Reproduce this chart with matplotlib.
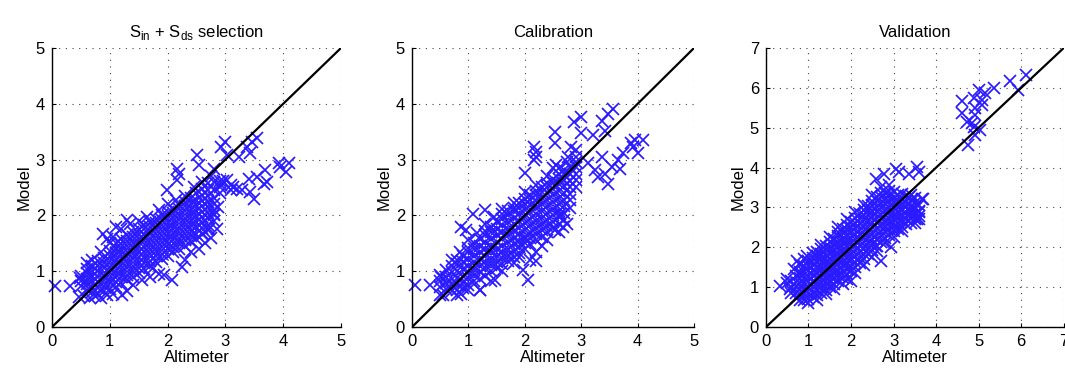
import matplotlib
matplotlib.use("Agg")
import matplotlib.pyplot as plt

plt.rcParams['font.family'] = ['Liberation Sans', 'DejaVu Sans']
plt.rcParams['mathtext.fontset'] = 'custom'
plt.rcParams['mathtext.rm'] = 'Liberation Sans'

titles = ['S$_{\\mathregular{in}}$ + S$_{\\mathregular{ds}}$ selection', 'Calibration', 'Validation']
axis_max = [5, 5, 7]

# ---- panel 1: Sin + Sds selection ----
# dense band, read column by column (x centre, y values)
p1_cols = [0.5, 0.6, 0.7, 0.8, 0.9, 1.0, 1.1, 1.2, 1.3, 1.4, 1.5, 1.6, 1.7,
           1.8, 1.9, 2.0, 2.1, 2.2, 2.3, 2.4, 2.5, 2.6, 2.7, 2.8, 2.9]
p1_band = [
    [0.73, 0.83, 0.92],
    [0.66, 0.77, 0.86, 0.97, 1.04],
    [0.62, 0.71, 0.83, 0.92, 1.01, 1.1],
    [0.6, 0.7, 0.81, 0.9, 1.0, 1.09, 1.18],
    [0.64, 0.73, 0.85, 0.94, 1.05, 1.14, 1.24],
    [0.68, 0.79, 0.88, 0.99, 1.08, 1.19, 1.28, 1.37],
    [0.72, 0.81, 0.93, 1.02, 1.13, 1.22, 1.33, 1.42, 1.5],
    [0.78, 0.89, 0.98, 1.09, 1.18, 1.29, 1.38, 1.49, 1.58],
    [0.84, 0.93, 1.05, 1.14, 1.25, 1.34, 1.45, 1.54, 1.64],
    [0.9, 1.01, 1.1, 1.21, 1.3, 1.41, 1.5, 1.61, 1.7],
    [0.96, 1.05, 1.17, 1.26, 1.37, 1.46, 1.57, 1.66, 1.76],
    [1.04, 1.15, 1.24, 1.35, 1.44, 1.55, 1.64, 1.75, 1.82],
    [1.1, 1.19, 1.31, 1.4, 1.51, 1.6, 1.71, 1.8, 1.88],
    [1.16, 1.27, 1.36, 1.47, 1.56, 1.67, 1.76, 1.87, 1.94],
    [1.22, 1.31, 1.43, 1.52, 1.63, 1.72, 1.83, 1.92, 2.0],
    [1.28, 1.39, 1.48, 1.59, 1.68, 1.79, 1.88, 1.99, 2.06],
    [1.34, 1.43, 1.55, 1.64, 1.75, 1.84, 1.95, 2.04, 2.12],
    [1.4, 1.51, 1.6, 1.71, 1.8, 1.91, 2.0, 2.11, 2.18],
    [1.46, 1.55, 1.67, 1.76, 1.87, 1.96, 2.07, 2.16, 2.24],
    [1.52, 1.63, 1.72, 1.83, 1.92, 2.03, 2.12, 2.23, 2.32],
    [1.58, 1.67, 1.79, 1.88, 1.99, 2.08, 2.19, 2.28, 2.4],
    [1.66, 1.77, 1.86, 1.97, 2.06, 2.17, 2.26, 2.37, 2.48],
    [1.74, 1.83, 1.95, 2.04, 2.15, 2.24, 2.35, 2.46, 2.58],
    [1.9, 2.01, 2.1, 2.21, 2.32, 2.46, 2.6],
    [2.4, 2.51, 2.62],
]
# sparse points around the band and outliers
p1_x = [0.06, 0.32, 0.49, 0.47, 0.89, 1.1, 1.29, 0.95, 1.21, 1.93, 2.08, 2.25,
        1.99, 2.16, 2.19, 2.16, 2.51, 2.54, 2.92, 3.0, 3.03, 3.23, 2.8, 3.37,
        3.43, 3.55, 3.46, 3.4, 3.55, 3.69, 3.72, 3.66, 3.43, 3.49, 3.29, 3.14,
        3.09, 3.92, 3.95, 4.04, 4.1, 3.03, 2.92, 2.88, 2.8, 2.62, 2.71,
        0.55, 0.65, 0.75, 0.85, 0.95, 1.05, 1.3, 1.4, 1.55, 1.7, 1.75, 1.85,
        2.3, 2.4, 2.55, 2.65, 2.75, 2.85, 0.6, 0.7, 0.85, 1.0, 1.05, 1.2,
        1.35, 1.5, 1.65, 1.85, 2.0, 2.15, 2.3, 2.45, 2.6, 2.75, 3.1, 3.2, 2.95]
p1_y = [0.73, 0.73, 0.87, 0.54, 1.67, 1.79, 1.91, 1.58, 0.57, 0.93, 0.84, 1.08,
        2.45, 2.84, 2.75, 2.63, 3.08, 2.9, 3.23, 3.32, 3.08, 3.05, 2.84, 3.23,
        3.11, 3.38, 3.32, 2.66, 2.69, 2.81, 2.6, 2.57, 2.42, 2.3, 2.45, 2.51,
        2.45, 2.93, 2.87, 2.78, 2.93, 2.63, 2.54, 2.15, 2.03, 1.67, 1.76,
        0.55, 0.52, 0.55, 0.52, 0.58, 0.6, 0.65, 0.75, 0.85, 0.9, 1.05, 0.95,
        1.2, 1.35, 1.4, 1.5, 1.6, 1.75, 1.15, 1.2, 1.35, 1.5, 1.62, 1.75,
        1.85, 1.9, 1.98, 2.1, 2.2, 2.28, 2.35, 2.5, 2.6, 2.7, 2.55, 2.48, 2.62]

# ---- panel 2: Calibration ----
p2_cols = [0.5, 0.6, 0.7, 0.8, 0.9, 1.0, 1.1, 1.2, 1.3, 1.4, 1.5, 1.6, 1.7,
           1.8, 1.9, 2.0, 2.1, 2.2, 2.3, 2.4, 2.5, 2.6, 2.7, 2.8, 2.9]
p2_band = [
    [0.72, 0.83, 0.94],
    [0.68, 0.79, 0.9, 1.02],
    [0.64, 0.75, 0.86, 0.98, 1.1],
    [0.66, 0.77, 0.88, 1.0, 1.12, 1.2],
    [0.7, 0.81, 0.92, 1.04, 1.16, 1.28],
    [0.76, 0.87, 0.98, 1.1, 1.22, 1.34, 1.42],
    [0.82, 0.93, 1.04, 1.16, 1.28, 1.4, 1.5],
    [0.86, 0.99, 1.1, 1.22, 1.34, 1.46, 1.58],
    [0.92, 1.05, 1.16, 1.28, 1.4, 1.52, 1.64, 1.72],
    [1.0, 1.11, 1.22, 1.34, 1.46, 1.58, 1.7, 1.8],
    [1.06, 1.17, 1.28, 1.4, 1.52, 1.64, 1.76, 1.88],
    [1.12, 1.23, 1.34, 1.46, 1.58, 1.7, 1.82, 1.94, 2.02],
    [1.18, 1.29, 1.4, 1.52, 1.64, 1.76, 1.88, 2.0, 2.08],
    [1.26, 1.37, 1.48, 1.6, 1.72, 1.84, 1.96, 2.08, 2.14],
    [1.32, 1.43, 1.54, 1.66, 1.78, 1.9, 2.02, 2.14, 2.22],
    [1.4, 1.51, 1.62, 1.74, 1.86, 1.98, 2.1, 2.2, 2.3],
    [1.48, 1.59, 1.7, 1.82, 1.94, 2.06, 2.18, 2.28, 2.36],
    [1.56, 1.67, 1.78, 1.9, 2.02, 2.14, 2.26, 2.36, 2.44],
    [1.62, 1.73, 1.84, 1.96, 2.08, 2.2, 2.32, 2.42, 2.5],
    [1.7, 1.81, 1.92, 2.04, 2.16, 2.28, 2.4, 2.5, 2.58],
    [1.78, 1.89, 2.0, 2.12, 2.24, 2.36, 2.48, 2.58, 2.66],
    [1.84, 1.97, 2.08, 2.2, 2.32, 2.44, 2.56, 2.66, 2.74],
    [1.92, 2.05, 2.16, 2.28, 2.4, 2.52, 2.64, 2.74, 2.82],
    [2.14, 2.27, 2.38, 2.5, 2.62, 2.74, 2.86],
    [2.5, 2.63, 2.74, 2.86, 2.96],
]
p2_x = [0.06, 0.31, 0.49, 0.52, 0.87, 0.96, 1.08, 1.29, 0.86, 1.2, 1.47, 1.97,
        2.06, 2.2, 2.0, 2.0, 2.17, 2.2, 2.2, 2.17, 2.53, 2.53, 2.56, 2.82, 2.91,
        2.88, 3.0, 3.0, 3.21, 3.36, 3.48, 3.56, 3.42, 2.77, 3.12, 3.24, 3.3,
        3.42, 3.48, 3.54, 3.65, 3.68, 3.74, 3.36, 3.89, 3.95, 4.01, 4.1, 3.92,
        2.62, 2.68, 2.53,
        0.55, 0.8, 1.0, 1.2, 1.4, 1.6, 1.8, 2.1, 2.2, 2.4, 2.6, 2.75, 0.7,
        0.85, 1.0, 1.15, 1.3, 1.45, 1.6, 1.8, 2.0, 2.2, 2.4, 2.6, 2.75, 2.9,
        2.5, 1.9, 2.3]
p2_y = [0.76, 0.76, 0.57, 0.9, 1.79, 1.73, 2.03, 2.1, 0.6, 0.66, 0.84, 1.02,
        0.84, 1.19, 1.58, 2.76, 3.23, 3.14, 3.05, 2.99, 3.49, 3.29, 2.9, 3.23,
        3.17, 3.67, 3.76, 3.47, 3.44, 3.7, 3.82, 3.91, 3.52, 3.05, 2.93, 2.81,
        2.69, 2.75, 2.57, 2.87, 2.99, 2.84, 3.11, 3.05, 3.29, 3.35, 3.11, 3.35,
        3.23, 2.03, 1.79, 1.73,
        0.58, 0.58, 0.66, 0.66, 0.82, 1.0, 1.15, 1.2, 1.35, 1.55, 1.7, 1.85,
        1.2, 1.35, 1.55, 1.68, 1.85, 1.98, 2.12, 2.22, 2.42, 2.55, 2.7, 2.85,
        2.95, 3.05, 2.85, 1.25, 1.45]

# ---- panel 3: Validation ----
p3_cols = [0.6, 0.7, 0.8, 0.9, 1.0, 1.1, 1.2, 1.3, 1.4, 1.5, 1.6, 1.7, 1.8,
           1.9, 2.0, 2.1, 2.2, 2.3, 2.4, 2.5, 2.6, 2.7, 2.8, 2.9, 3.0, 3.1,
           3.2, 3.3, 3.4, 3.5, 3.6]
p3_band = [
    [0.85, 1.0, 1.15],
    [0.72, 0.86, 1.0, 1.14, 1.28],
    [0.68, 0.82, 0.96, 1.1, 1.24, 1.38],
    [0.68, 0.82, 0.96, 1.1, 1.24, 1.38, 1.52],
    [0.7, 0.84, 0.98, 1.12, 1.26, 1.4, 1.54, 1.66],
    [0.74, 0.88, 1.02, 1.16, 1.3, 1.44, 1.58, 1.72],
    [0.8, 0.94, 1.08, 1.22, 1.36, 1.5, 1.64, 1.78, 1.88],
    [0.86, 1.0, 1.14, 1.28, 1.42, 1.56, 1.7, 1.84, 1.96],
    [0.94, 1.08, 1.22, 1.36, 1.5, 1.64, 1.78, 1.92, 2.04],
    [1.0, 1.14, 1.28, 1.42, 1.56, 1.7, 1.84, 1.98, 2.12],
    [1.08, 1.22, 1.36, 1.5, 1.64, 1.78, 1.92, 2.06, 2.2],
    [1.16, 1.3, 1.44, 1.58, 1.72, 1.86, 2.0, 2.14, 2.28, 2.38],
    [1.24, 1.38, 1.52, 1.66, 1.8, 1.94, 2.08, 2.22, 2.36, 2.46],
    [1.32, 1.46, 1.6, 1.74, 1.88, 2.02, 2.16, 2.3, 2.44, 2.56],
    [1.4, 1.54, 1.68, 1.82, 1.96, 2.1, 2.24, 2.38, 2.52, 2.64],
    [1.5, 1.64, 1.78, 1.92, 2.06, 2.2, 2.34, 2.48, 2.62, 2.74],
    [1.6, 1.74, 1.88, 2.02, 2.16, 2.3, 2.44, 2.58, 2.72, 2.84],
    [1.7, 1.84, 1.98, 2.12, 2.26, 2.4, 2.54, 2.68, 2.82, 2.94],
    [1.82, 1.96, 2.1, 2.24, 2.38, 2.52, 2.66, 2.8, 2.94, 3.04],
    [1.94, 2.08, 2.22, 2.36, 2.5, 2.64, 2.78, 2.92, 3.06, 3.16],
    [2.04, 2.18, 2.32, 2.46, 2.6, 2.74, 2.88, 3.02, 3.16, 3.26],
    [2.14, 2.28, 2.42, 2.56, 2.7, 2.84, 2.98, 3.12, 3.26, 3.36],
    [2.24, 2.38, 2.52, 2.66, 2.8, 2.94, 3.08, 3.22, 3.36],
    [2.32, 2.46, 2.6, 2.74, 2.88, 3.02, 3.16, 3.3, 3.42],
    [2.4, 2.54, 2.68, 2.82, 2.96, 3.1, 3.24, 3.38],
    [2.46, 2.6, 2.74, 2.88, 3.02, 3.16, 3.3],
    [2.52, 2.66, 2.8, 2.94, 3.08, 3.22, 3.34],
    [2.58, 2.72, 2.86, 3.0, 3.14, 3.28],
    [2.62, 2.76, 2.9, 3.04, 3.18, 3.3],
    [2.7, 2.84, 2.98, 3.12, 3.24],
    [2.78, 2.92, 3.06],
]
p3_x = [0.33, 0.49, 0.57, 0.8, 0.74, 0.96, 2.59, 2.94, 2.7, 2.0, 2.59, 2.78,
        3.05, 3.13, 3.36, 3.56, 3.6, 3.36, 3.67, 3.6, 3.56, 3.44,
        4.61, 4.88, 5.0, 4.92, 5.07, 5.15, 5.35, 4.61, 4.72, 4.88, 4.92, 4.84,
        5.04, 4.92, 4.76, 5.73, 5.93, 6.12, 5.07,
        0.5, 0.65, 0.8, 0.9, 1.1, 1.3, 1.5, 1.7, 1.9, 2.1, 2.3, 2.5, 2.7, 2.9,
        1.0, 1.2, 1.4, 1.6, 1.8, 1.9, 2.1, 2.3, 2.5, 2.6, 2.8, 3.0, 3.2, 3.5,
        3.6, 3.7]
p3_y = [1.03, 1.2, 0.95, 1.33, 1.66, 1.79, 2.04, 2.0, 1.66, 1.16, 3.72, 3.85,
        3.97, 3.89, 3.85, 4.02, 3.89, 3.26, 3.22, 2.88, 2.71, 2.97,
        5.66, 5.74, 5.95, 5.49, 5.7, 5.87, 5.99, 5.36, 5.15, 5.03, 5.32, 5.11,
        4.94, 4.82, 4.56, 6.16, 5.95, 6.33, 5.57,
        1.1, 1.45, 1.55, 1.7, 1.85, 2.05, 2.25, 2.5, 2.7, 2.88, 3.05, 3.3, 3.5,
        3.55, 0.6, 0.68, 0.82, 0.95, 1.08, 1.2, 1.35, 1.55, 1.75, 1.9, 2.1,
        2.25, 2.4, 2.6, 2.7, 3.2]

panels = [(p1_cols, p1_band, p1_x, p1_y),
          (p2_cols, p2_band, p2_x, p2_y),
          (p3_cols, p3_band, p3_x, p3_y)]

# axes boxes in figure fractions (left, bottom, width, height)
boxes = [(0.0488, 0.121, 0.2714, 0.750),
         (0.3869, 0.121, 0.2648, 0.750),
         (0.7192, 0.121, 0.2796, 0.750)]

fig = plt.figure(figsize=(10.65, 3.72), dpi=100)

for i, (cols, band, ox, oy) in enumerate(panels):
    ax = fig.add_axes(boxes[i])
    xs, ys = [], []
    for cx, col in zip(cols, band):
        xs += [cx] * len(col)
        ys += col
    xs += ox
    ys += oy
    m = axis_max[i]
    ax.plot(xs, ys, 'x', color='#2a1aff', markersize=8, markeredgewidth=1.25,
            clip_on=False, zorder=2)
    ax.plot([0, m], [0, m], '-', color='black', linewidth=1.6, zorder=3)
    ax.set_xlim(0, m)
    ax.set_ylim(0, m)
    ax.set_xticks(range(m + 1))
    ax.set_yticks(range(m + 1))
    ax.grid(True, color='#444444', linestyle=(0, (1, 5)), linewidth=0.8)
    ax.set_axisbelow(True)
    for s in ['top', 'right']:
        ax.spines[s].set_visible(False)
    ax.spines['left'].set_linewidth(1.0)
    ax.spines['bottom'].set_linewidth(1.0)
    ax.tick_params(direction='in', length=3, labelsize=12, pad=5)
    ax.set_xlabel('Altimeter', fontsize=12, labelpad=1)
    ax.set_ylabel('Model', fontsize=12, labelpad=3)
    ax.set_title(titles[i], fontsize=12, pad=8)

fig.savefig('out.png', dpi=100)
